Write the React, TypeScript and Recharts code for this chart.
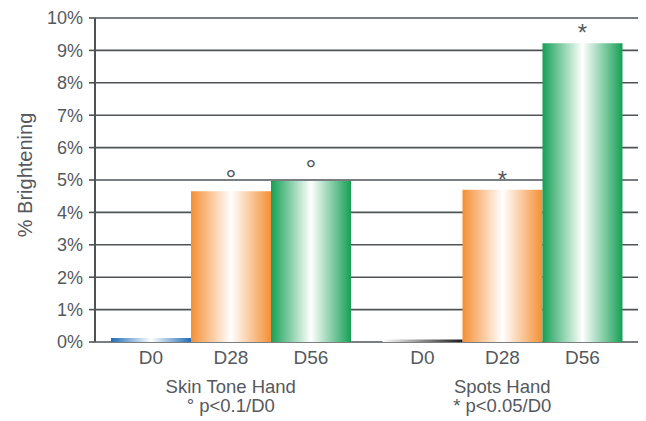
import { BarChart, Bar, XAxis, YAxis, CartesianGrid, LabelList, Label, Cell } from "recharts";

const groups = ["Skin Tone Hand", "Spots Hand"];
const footnotes = ["\u00B0 p<0.1/D0", "* p<0.05/D0"];
const seriesNames = ["D0", "D28", "D56"];
const d0Values = [0.12, 0.08];
const d28Values = [4.65, 4.7];
const d56Values = [4.97, 9.22];
const d28Marks = ["\u00B0", "*"];
const d56Marks = ["\u00B0", "*"];
const yTicks = [0, 1, 2, 3, 4, 5, 6, 7, 8, 9, 10];

const data = groups.map((g, i) => ({
  group: g,
  note: footnotes[i],
  d0: d0Values[i],
  d28: d28Values[i],
  d56: d56Values[i],
  m28: d28Marks[i],
  m56: d56Marks[i],
}));

const d0Fills = ["url(#gBlue)", "url(#gBlack)"];
const txt = "#55595d";
const font = "'Liberation Sans', Arial, sans-serif";

const GroupTick = (props: any) => {
  const { x, y, payload, index } = props;
  return (
    <g>
      <text x={x} y={y + 43} textAnchor="middle" fill={txt} fontSize={18.5} fontFamily={font}>
        {payload.value}
      </text>
      <text x={x} y={y + 62} textAnchor="middle" fill={txt} fontSize={18.5} fontFamily={font}>
        {data[index]?.note}
      </text>
    </g>
  );
};

const seriesLabel = (name: string) => (props: any) => {
  const { x, y, width, height } = props;
  return (
    <text x={x + width / 2} y={y + height + 22} textAnchor="middle" fill={txt} fontSize={19} fontFamily={font}>
      {name}
    </text>
  );
};

const markLabel = (props: any) => {
  const { x, y, width, value } = props;
  const star = value === "*";
  return (
    <text
      x={x + width / 2}
      y={star ? y - 2 : y - 2}
      textAnchor="middle"
      fill={txt}
      fontSize={star ? 24 : 27}
      fontFamily={font}
    >
      {value}
    </text>
  );
};

const YTitle = (props: any) => {
  const { viewBox } = props;
  const cx = viewBox.x + 17;
  const cy = viewBox.y + viewBox.height / 2 - 5;
  return (
    <text
      x={cx}
      y={cy}
      transform={`rotate(-90 ${cx} ${cy})`}
      textAnchor="middle"
      dominantBaseline="central"
      fill={txt}
      fontSize={20}
      fontFamily={font}
    >
      % Brightening
    </text>
  );
};

const edgeGradient = (id: string, color: string) => (
  <linearGradient id={id} x1="0" y1="0" x2="1" y2="0">
    <stop offset="0%" stopColor={color} />
    <stop offset="50%" stopColor="#ffffff" />
    <stop offset="100%" stopColor={color} />
  </linearGradient>
);

export default function App() {
  return (
    <BarChart
      width={638}
      height={413}
      data={data}
      margin={{ top: 10, right: 8, left: 0, bottom: 0 }}
      barGap={0}
      barSize={80}
    >
      <defs>
        {edgeGradient("gBlue", "#1f6db4")}
        {edgeGradient("gOrange", "#f48f35")}
        {edgeGradient("gGreen", "#15a055")}
        <linearGradient id="gBlack" x1="0" y1="0" x2="1" y2="0">
          <stop offset="0%" stopColor="#ffffff" />
          <stop offset="100%" stopColor="#1a1a1a" />
        </linearGradient>
      </defs>
      <CartesianGrid vertical={false} stroke="#4f5356" strokeWidth={1.6} />
      <XAxis
        dataKey="group"
        height={79}
        axisLine={false}
        tickLine={false}
        tick={<GroupTick />}
        interval={0}
      />
      <YAxis
        width={87}
        domain={[0, 10]}
        ticks={yTicks}
        interval={0}
        tickFormatter={(v) => `${v}%`}
        axisLine={{ stroke: "#4f5356", strokeWidth: 2 }}
        tickLine={{ stroke: "#4f5356", strokeWidth: 1.6 }}
        tickSize={6}
        tickMargin={6}
        tick={{ fill: txt, fontSize: 18, fontFamily: font }}
      >
        <Label content={<YTitle />} />
      </YAxis>
      <Bar dataKey="d0" isAnimationActive={false}>
        {data.map((_, i) => (
          <Cell key={i} fill={d0Fills[i]} />
        ))}
        <LabelList dataKey="d0" content={seriesLabel(seriesNames[0])} />
      </Bar>
      <Bar dataKey="d28" fill="url(#gOrange)" isAnimationActive={false}>
        <LabelList dataKey="d28" content={seriesLabel(seriesNames[1])} />
        <LabelList dataKey="m28" content={markLabel} />
      </Bar>
      <Bar dataKey="d56" fill="url(#gGreen)" isAnimationActive={false}>
        <LabelList dataKey="d56" content={seriesLabel(seriesNames[2])} />
        <LabelList dataKey="m56" content={markLabel} />
      </Bar>
    </BarChart>
  );
}
